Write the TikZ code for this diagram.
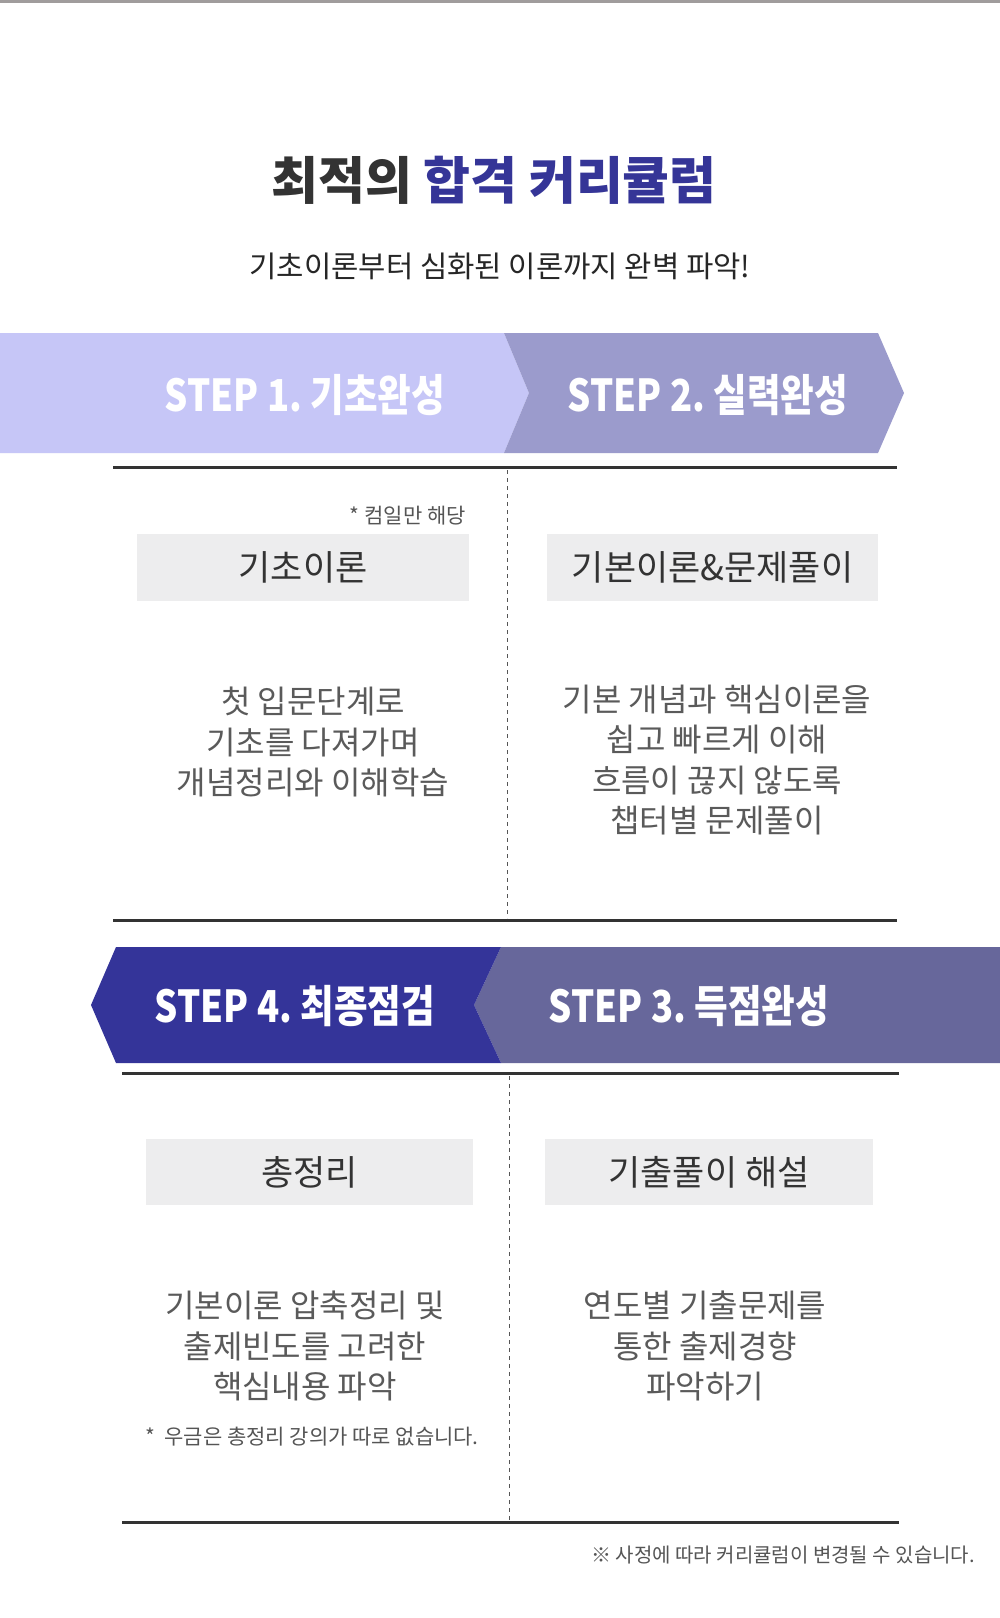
\documentclass[tikz,border=0pt]{standalone}
\usepackage{fontspec}
\usepackage{graphicx}
\setmainfont{Noto Sans CJK KR}
\definecolor{topgray}{HTML}{A09C9C}
\definecolor{barA}{HTML}{C6C6F7}
\definecolor{barB}{HTML}{9B9BCC}
\definecolor{barC}{HTML}{67679B}
\definecolor{barD}{HTML}{343499}
\definecolor{titleblue}{HTML}{353597}
\definecolor{ink}{HTML}{333333}
\definecolor{desc}{HTML}{5A5A5A}
\definecolor{note}{HTML}{555555}
\definecolor{boxfill}{HTML}{EDEDEE}
\tikzset{
  steptext/.style={text=white, font=\fontsize{44}{48}\selectfont\bfseries, inner sep=0pt},
  topicbox/.style={fill=boxfill, draw=none, minimum height=67pt, inner sep=0pt, text=ink, font=\fontsize{35}{39}\selectfont},
  desctext/.style={text=desc, align=center, inner sep=0pt, font=\fontsize{32}{40.5}\selectfont},
  notetext/.style={text=note, inner sep=0pt, font=\fontsize{20}{24}\selectfont},
  ruleline/.style={draw=ink, line width=3pt},
  dashline/.style={draw=note, line width=1pt, dash pattern=on 4pt off 4pt},
}
\begin{document}
\begin{tikzpicture}[x=1pt, y=-1pt]
\useasboundingbox (0,0) rectangle (1000,1618);
\fill[white] (0,0) rectangle (1000,1618);
\fill[topgray] (0,0) rectangle (1000,3);

% title
\node[inner sep=0pt, font=\fontsize{51}{55}\selectfont\bfseries] (title) at (494,180)
  {\textcolor{ink}{최적의} \textcolor{titleblue}{합격 커리큘럼}};
\node[inner sep=0pt, text=black!85, font=\fontsize{29.7}{34}\selectfont] (subtitle) at (500,266)
  {기초이론부터 심화된 이론까지 완벽 파악!};

% step bar 1
\fill[barA] (0,333) -- (504,333) -- (529,393) -- (504,453) -- (0,453) -- cycle;
\fill[barB] (504,333) -- (878,333) -- (904,393) -- (878,453) -- (504,453) -- (529,393) -- cycle;
\node[steptext] (s1) at (305,395) {\scalebox{0.83}[1]{STEP 1.\ 기초완성}};
\node[steptext] (s2) at (708,395) {\scalebox{0.83}[1]{STEP 2.\ 실력완성}};

\coordinate (l1a) at (113,467); \coordinate (l1b) at (897,467);
\coordinate (l2a) at (113,920); \coordinate (l2b) at (897,920);
\coordinate (d1a) at (507,470); \coordinate (d1b) at (507,918);
\draw[ruleline] (l1a) -- (l1b);
\draw[ruleline] (l2a) -- (l2b);
\draw[dashline] (d1a) -- (d1b);

\node[notetext, anchor=east, font=\fontsize{21}{25}\selectfont] (n1) at (466,516) {* 컴일만 해당};
\node[topicbox, minimum width=332pt] (b1) at (303,567.5) {기초이론};
\node[topicbox, minimum width=331pt] (b2) at (712.5,567.5) {기본이론\&문제풀이};

\node[desctext] (t1) at (313,742) {첫 입문단계로\\기초를 다져가며\\개념정리와 이해학습};
\node[desctext] (t2) at (717,760) {기본 개념과 핵심이론을\\쉽고 빠르게 이해\\흐름이 끊지 않도록\\챕터별 문제풀이};

% step bar 2
\fill[barC] (501,947) -- (1000,947) -- (1000,1063) -- (501,1063) -- (474,1005) -- cycle;
\fill[barD] (116,947) -- (501,947) -- (474,1005) -- (501,1063) -- (116,1063) -- (91,1005) -- cycle;
\node[steptext] (s4) at (295,1006) {\scalebox{0.83}[1]{STEP 4.\ 최종점검}};
\node[steptext] (s3) at (689,1006) {\scalebox{0.83}[1]{STEP 3.\ 득점완성}};

\coordinate (l3a) at (122,1073); \coordinate (l3b) at (899,1073);
\coordinate (l4a) at (122,1522); \coordinate (l4b) at (899,1522);
\coordinate (d2a) at (509,1076); \coordinate (d2b) at (509,1520);
\draw[ruleline] (l3a) -- (l3b);
\draw[ruleline] (l4a) -- (l4b);
\draw[dashline] (d2a) -- (d2b);

\node[topicbox, minimum width=327pt, minimum height=66pt] (b3) at (309.5,1172) {총정리};
\node[topicbox, minimum width=328pt, minimum height=66pt] (b4) at (709,1172) {기출풀이 해설};

\node[desctext] (t3) at (305,1346) {기본이론 압축정리 및\\출제빈도를 고려한\\핵심내용 파악};
\node[desctext] (t4) at (705,1346) {연도별 기출문제를\\통한 출제경향\\파악하기};

\node[notetext, font=\fontsize{21}{25}\selectfont] (n3) at (312,1437) {*\ \ 우금은 총정리 강의가 따로 없습니다.};
\node[notetext, anchor=east] (foot) at (975,1555) {※ 사정에 따라 커리큘럼이 변경될 수 있습니다.};
\end{tikzpicture}
\end{document}
